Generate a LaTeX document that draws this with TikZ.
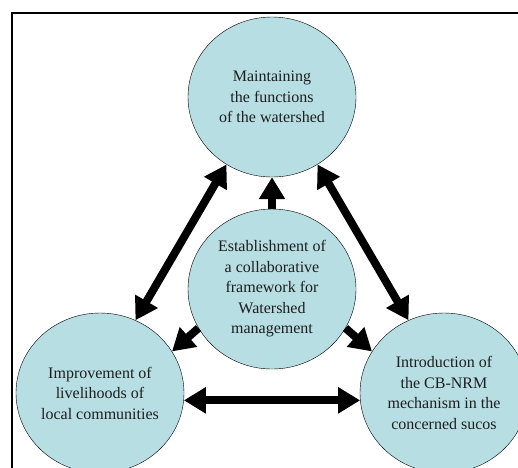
\documentclass[tikz,border=0pt]{standalone}
\usepackage{fontspec}
\setmainfont{Liberation Serif}
\usepackage{xcolor}
\usetikzlibrary{shapes.geometric, arrows.meta, positioning}
\definecolor{goalblue}{RGB}{183,222,227}
\definecolor{textgrey}{RGB}{30,30,30}

\begin{document}
\begin{tikzpicture}[
    x=1pt, y=-1pt,
    goal/.style={ellipse, draw, thin, fill=goalblue, minimum width=168pt, minimum height=160pt, inner sep=0pt, align=center, font=\fontsize{16}{20.5}\selectfont, text=textgrey},
    arrow/.style={-{Triangle[width=25pt, length=22pt]}, line width=8pt},
    biarrow/.style={{Triangle[width=25pt, length=22pt]}-{Triangle[width=25pt, length=22pt]}, line width=8pt}
]
\useasboundingbox (0,0) rectangle (518,467);

% Frame
\draw[line width=2pt] (12,480) -- (12,13) -- (530,13);

% Goals
\node[goal] (functions) at (272,97) {Maintaining\\the functions\\of the watershed};
\node[goal] (framework) at (272,289) {Establishment of\\a collaborative\\framework for\\Watershed\\management};
\node[goal] (livelihoods) at (100,393) {Improvement of\\livelihoods of\\local communities};
\node[goal] (cbnrm) at (444,393) {Introduction of\\the CB-NRM\\mechanism in the\\concerned sucos};

% Arrows from the framework
\draw[arrow] (framework.north) -- (functions.south);
\draw[arrow] (framework.208) -- (livelihoods.30);
\draw[arrow] (framework.-28) -- (cbnrm.150);

% Arrows between the goals
\draw[biarrow] (livelihoods.64) -- (functions.236);
\draw[biarrow] (functions.304) -- (cbnrm.116);
\draw[biarrow] (livelihoods.-5) -- (cbnrm.185);

\end{tikzpicture}
\end{document}
